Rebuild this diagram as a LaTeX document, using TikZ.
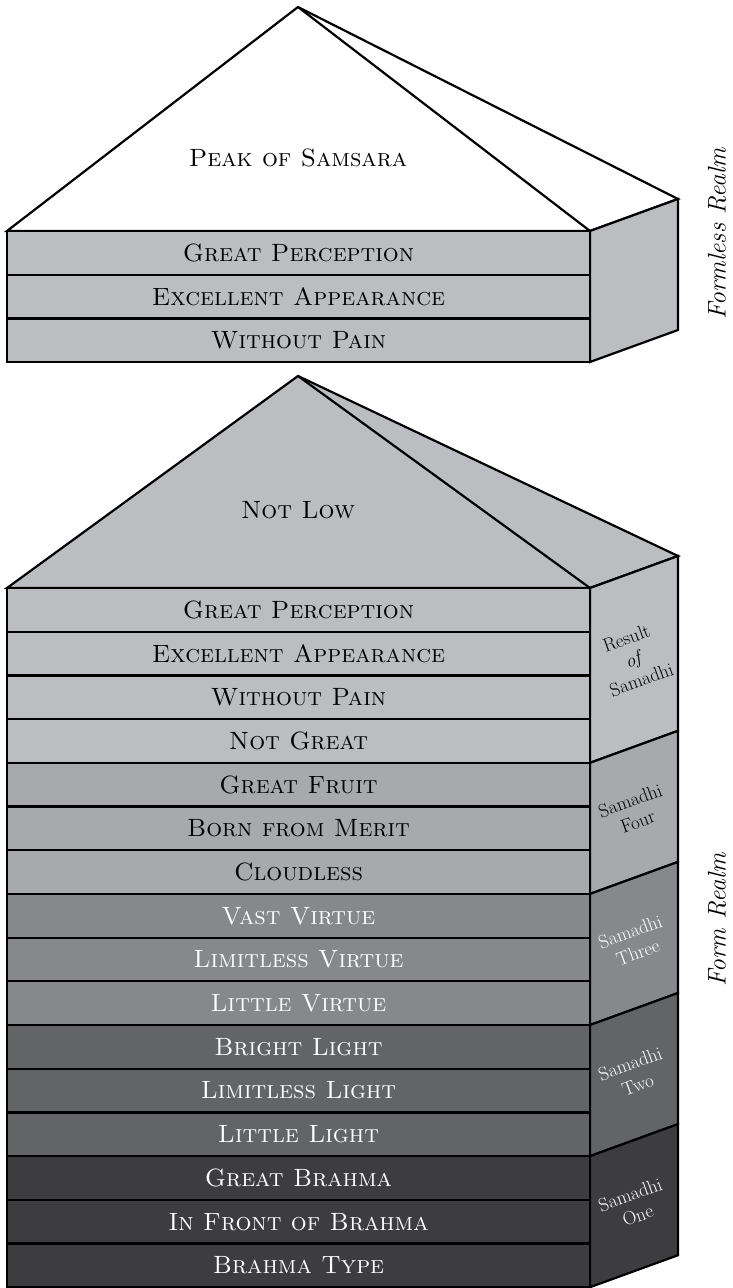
\documentclass[tikz,border=0pt]{standalone}
\usepackage{tikz}
\usetikzlibrary{positioning}
\definecolor{gLight}{HTML}{BCBDC0}
\definecolor{gFour}{HTML}{A7A9AC}
\definecolor{gThree}{HTML}{87888B}
\definecolor{gTwo}{HTML}{636466}
\definecolor{gOne}{HTML}{3D3D3F}

\begin{document}
\begin{tikzpicture}[x=1pt, y=-1pt,
  layer/.style={draw, line width=2.2pt, minimum width=583pt, minimum height=43.7pt, inner sep=0pt, outer sep=0pt, font=\fontsize{25}{28}\selectfont\scshape},
  face/.style={draw, line width=2.2pt, line join=miter},
  roofname/.style={font=\fontsize{25}{28}\selectfont\scshape},
  sidelbl/.style={rotate=20, align=center, inner sep=1pt, font=\fontsize{19}{22}\selectfont},
  realm/.style={rotate=90, font=\fontsize{25.5}{28}\selectfont\itshape}
]
  \useasboundingbox (0,0) rectangle (733,1288);

  % Formless realm: roof and side
  \coordinate (peak) at (298,7);
  \coordinate (tfl) at (7,231);
  \coordinate (tfr) at (590,231);
  \coordinate (tbr) at (678,199);
  \coordinate (tbb) at (678,330);
  \coordinate (tfb) at (590,362);
  \filldraw[face, fill=white] (peak) -- (tfl) -- (tfr) -- (tbr) -- cycle;
  \draw[face] (peak) -- (tfr);
  \filldraw[face, fill=gLight] (tfr) -- (tbr) -- (tbb) -- (tfb) -- cycle;
  \node[roofname] (peaktxt) at (298,158) {Peak of Samsara};

  \node[layer, fill=gLight] (u1) at (298.5,252.85) {Great Perception};
  \node[layer, fill=gLight] (u2) at (298.5,296.55) {Excellent Appearance};
  \node[layer, fill=gLight] (u3) at (298.5,340.25) {Without Pain};

  % Form realm: roof
  \coordinate (apex) at (298,376);
  \coordinate (bfl) at (7,588);
  \coordinate (bfr) at (590,588);
  \coordinate (bbr) at (678,556);
  \filldraw[face, fill=gLight] (apex) -- (bfl) -- (bfr) -- (bbr) -- cycle;
  \draw[face] (apex) -- (bfr);
  \node[roofname] (notlow) at (298,510) {Not Low};

  % Side faces, one per samadhi
  \filldraw[face, fill=gLight] (590,588) -- (678,556) -- (678,730.8) -- (590,762.8) -- cycle;
  \filldraw[face, fill=gFour] (590,762.8) -- (678,730.8) -- (678,861.9) -- (590,893.9) -- cycle;
  \filldraw[face, fill=gThree] (590,893.9) -- (678,861.9) -- (678,993) -- (590,1025) -- cycle;
  \filldraw[face, fill=gTwo] (590,1025) -- (678,993) -- (678,1124.1) -- (590,1156.1) -- cycle;
  \filldraw[face, fill=gOne] (590,1156.1) -- (678,1124.1) -- (678,1255.2) -- (590,1287.2) -- cycle;

  % Layers
  \node[layer, fill=gLight] (l1) at (298.5,609.85) {Great Perception};
  \node[layer, fill=gLight] (l2) at (298.5,653.55) {Excellent Appearance};
  \node[layer, fill=gLight] (l3) at (298.5,697.25) {Without Pain};
  \node[layer, fill=gLight] (l4) at (298.5,740.95) {Not Great};
  \node[layer, fill=gFour] (l5) at (298.5,784.65) {Great Fruit};
  \node[layer, fill=gFour] (l6) at (298.5,828.35) {Born from Merit};
  \node[layer, fill=gFour] (l7) at (298.5,872.05) {Cloudless};
  \node[layer, fill=gThree, text=white] (l8) at (298.5,915.75) {Vast Virtue};
  \node[layer, fill=gThree, text=white] (l9) at (298.5,959.45) {Limitless Virtue};
  \node[layer, fill=gThree, text=white] (l10) at (298.5,1003.15) {Little Virtue};
  \node[layer, fill=gTwo, text=white] (l11) at (298.5,1046.85) {Bright Light};
  \node[layer, fill=gTwo, text=white] (l12) at (298.5,1090.55) {Limitless Light};
  \node[layer, fill=gTwo, text=white] (l13) at (298.5,1134.25) {Little Light};
  \node[layer, fill=gOne, text=white] (l14) at (298.5,1177.95) {Great Brahma};
  \node[layer, fill=gOne, text=white] (l15) at (298.5,1221.65) {In Front of Brahma};
  \node[layer, fill=gOne, text=white] (l16) at (298.5,1265.35) {Brahma Type};

  % Side labels
  \node[sidelbl] (sres) at (634,659) {Result\\\textit{of}\\Samadhi};
  \node[sidelbl] (sfour) at (634,811) {Samadhi\\Four};
  \node[sidelbl, text=white] (sthree) at (634,942) {Samadhi\\Three};
  \node[sidelbl, text=white] (stwo) at (634,1074) {Samadhi\\Two};
  \node[sidelbl, text=white] (sone) at (634,1205) {Samadhi\\One};

  % Realms
  \node[realm] (formless) at (717,234) {Formless Realm};
  \node[realm] (form) at (717,920) {Form Realm};
\end{tikzpicture}
\end{document}
